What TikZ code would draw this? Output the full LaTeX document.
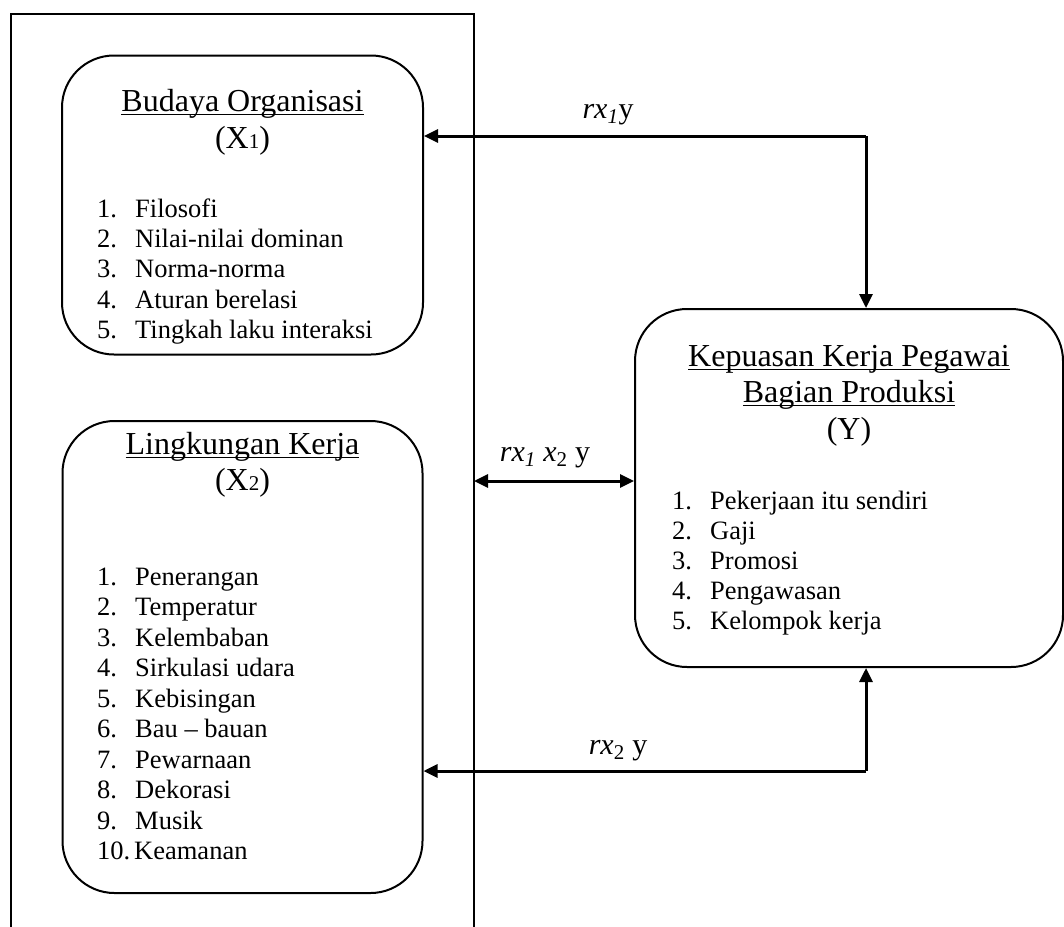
\documentclass[tikz,border=0pt]{standalone}
\usepackage{fontspec}
\setmainfont{Liberation Serif}
\usetikzlibrary{arrows.meta}
\newcommand{\myul}[1]{\setbox0=\hbox{#1}\rlap{\vrule height -2.5pt depth 4.2pt width \wd0}\box0}
\newcommand{\smalld}[1]{{\fontsize{21}{21}\selectfont #1}}
\begin{document}
\begin{tikzpicture}[x=1pt,y=-1pt,
  box/.style={draw,line width=2pt,rounded corners=52pt,inner sep=0pt},
  frame/.style={line width=2pt},
  conn/.style={line width=3pt},
  tip/.style={-{Triangle[length=14pt,width=13pt]}},
  dtip/.style={{Triangle[length=14pt,width=13pt]}-{Triangle[length=14pt,width=13pt]}},
  ttl/.style={font=\fontsize{32}{36}\selectfont,anchor=base,inner sep=0pt},
  itm/.style={font=\fontsize{26.5}{30}\selectfont,anchor=base west,inner sep=0pt},
  lbl/.style={font=\fontsize{30}{34}\selectfont,anchor=base,inner sep=0pt}]
\useasboundingbox (0,0) rectangle (1064,926);

% frame
\coordinate (fbl) at (11,930);
\coordinate (ftl) at (11,14);
\coordinate (ftr) at (474,14);
\coordinate (fbr) at (474,930);
\draw[frame] (fbl) -- (ftl) -- (ftr) -- (fbr);

% boxes
\node[box,minimum width=361pt,minimum height=299pt] (b1) at (242.5,205) {};
\node[box,minimum width=360pt,minimum height=472pt] (b2) at (242.5,657) {};
\node[box,minimum width=428pt,minimum height=358pt] (by) at (849,488) {};

% titles
\node[ttl] (t1) at (242.5,111) {\myul{Budaya Organisasi}};
\node[ttl] (t1b) at (242.5,148) {(X\smalld{1})};
\node[ttl] (t2) at (242.5,454) {\myul{Lingkungan Kerja}};
\node[ttl] (t2b) at (242.5,490) {(X\smalld{2})};
\node[ttl] (ty) at (849,366) {\myul{Kepuasan Kerja Pegawai}};
\node[ttl] (tyb) at (849,402) {\myul{Bagian Produksi}};
\node[ttl] (tyc) at (849,439) {(Y)};

% lists
\foreach \t [count=\i] in {Filosofi,Nilai-nilai dominan,Norma-norma,Aturan berelasi,Tingkah laku interaksi}{
  \node[itm] (n1\i) at (97,{217+30.4*(\i-1)}) {\i.};
  \node[itm] (i1\i) at (135,{217+30.4*(\i-1)}) {\t};
}
\foreach \t [count=\i] in {Penerangan,Temperatur,Kelembaban,Sirkulasi udara,Kebisingan,Bau – bauan,Pewarnaan,Dekorasi,Musik}{
  \node[itm] (n2\i) at (97,{585+30.5*(\i-1)}) {\i.};
  \node[itm] (i2\i) at (135,{585+30.5*(\i-1)}) {\t};
}
\node[itm] (n210) at (97,859.5) {10.};
\node[itm] (i210) at (134,859.5) {Keamanan};
\foreach \t [count=\i] in {Pekerjaan itu sendiri,Gaji,Promosi,Pengawasan,Kelompok kerja}{
  \node[itm] (ny\i) at (672,{509+30*(\i-1)}) {\i.};
  \node[itm] (iy\i) at (710,{509+30*(\i-1)}) {\t};
}

% connectors
\coordinate (c1) at (866,136);
\coordinate (c2) at (866,771);
\coordinate (m) at (474,481);
\draw[conn,tip] (c1) -- (c1 -| b1.east);
\draw[conn,tip] (c1) -- (c1 |- by.north);
\draw[conn,tip] (c2) -- (c2 -| b2.east);
\draw[conn,tip] (c2) -- (c2 |- by.south);
\draw[conn,dtip] (m) -- (m -| by.west);

% labels
\node[lbl] (l1) at (608,118) {\textit{rx\textsubscript{1}}y};
\node[lbl] (l2) at (545,461) {\textit{rx\textsubscript{1} x}\textsubscript{2} y};
\node[lbl] (l3) at (618,754) {\textit{rx}\textsubscript{2} y};
\end{tikzpicture}
\end{document}
